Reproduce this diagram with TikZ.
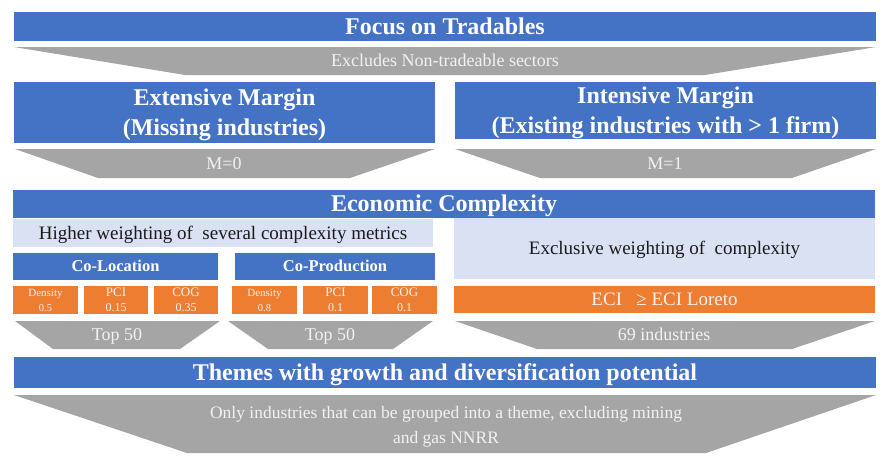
\documentclass[tikz,border=0pt]{standalone}
\usepackage{fontspec}
\setmainfont{Liberation Serif}
\definecolor{oblue}{HTML}{4472C4}
\definecolor{ogray}{HTML}{A5A5A5}
\definecolor{oorange}{HTML}{ED7D31}
\definecolor{olight}{HTML}{DAE1F3}
\definecolor{ltext}{HTML}{F2F2F2}
\definecolor{dtext}{HTML}{1A1A1A}
\begin{document}
\begin{tikzpicture}[x=1pt,y=-1pt,
  box/.style={rectangle, inner sep=0pt, outer sep=0pt, align=center},
  bluebox/.style={box, fill=oblue, text=white, font=\bfseries\fontsize{24}{30}\selectfont, text height=19pt, text depth=3.2pt},
  twoline/.style={text height=49pt, text depth=3.2pt},
  subblue/.style={box, fill=oblue, text=white, font=\bfseries\fontsize{16.5}{20}\selectfont, text height=13pt, text depth=2.1pt},
  lightbox/.style={box, fill=olight, text=dtext, font=\fontsize{19}{23}\selectfont, text height=15.5pt, text depth=3pt},
  orangebox/.style={box, fill=oorange, text=ltext, font=\fontsize{19}{23}\selectfont, text height=15.5pt, text depth=3pt},
  smallorange/.style={box, fill=oorange, text=ltext, minimum height=28pt, font=\fontsize{12}{15.5}\selectfont, text height=25.5pt, text depth=1.7pt},
  graytext/.style={box, text=ltext, font=\fontsize{18}{25}\selectfont, text height=14.5pt, text depth=2.6pt},
  funnel/.style={fill=ogray}
]
\useasboundingbox (0,0) rectangle (890,475);

% Focus on Tradables
\node[bluebox, minimum width=862pt, minimum height=29pt] (focus) at (445,26.5) {Focus on Tradables};
\fill[funnel] (14,47) -- (876,47) -- (705,75) -- (185,75) -- cycle;
\node[graytext] (excl) at (445,61) {Excludes Non-tradeable sectors};

% Margins
\node[bluebox, twoline, minimum width=421pt, minimum height=61pt] (ext) at (224.5,112.5) {Extensive Margin\\(Missing industries)};
\node[bluebox, twoline, minimum width=421pt, minimum height=57pt] (int) at (665.5,110.5) {Intensive Margin\\(Existing industries with > 1 firm)};
\fill[funnel] (15,149) -- (435,149) -- (350,178) -- (98,178) -- cycle;
\node[graytext] (m0) at (224,163.5) {M=0};
\fill[funnel] (455,149) -- (876,149) -- (792,178) -- (540,178) -- cycle;
\node[graytext] (m1) at (665,163.5) {M=1};

% Economic complexity
\node[bluebox, minimum width=862pt, minimum height=28pt] (eco) at (444,204) {Economic Complexity};
\node[lightbox, minimum width=420pt, minimum height=28pt] (higher) at (223,233) {Higher weighting of\ \ several complexity metrics};
\node[lightbox, minimum width=421pt, minimum height=61pt] (exclusive) at (664.5,248.5) {Exclusive weighting of\ \ complexity};

\node[subblue, minimum width=205pt, minimum height=27pt] (coloc) at (115.5,266.5) {Co-Location};
\node[subblue, minimum width=200pt, minimum height=27pt] (coprod) at (335,266.5) {Co-Production};

\node[smallorange, minimum width=65pt] (d1) at (45.5,300) {\fontsize{11}{15.5}\selectfont Density\\\fontsize{10.5}{15.5}\selectfont 0.5};
\node[smallorange, minimum width=64pt] (p1) at (116,300) {\fontsize{13}{15.5}\selectfont PCI\\\fontsize{12}{15.5}\selectfont 0.15};
\node[smallorange, minimum width=64pt] (c1) at (186,300) {\fontsize{13}{15.5}\selectfont COG\\\fontsize{12}{15.5}\selectfont 0.35};
\node[smallorange, minimum width=65pt] (d2) at (264.5,300) {\fontsize{11}{15.5}\selectfont Density\\\fontsize{10.5}{15.5}\selectfont 0.8};
\node[smallorange, minimum width=65pt] (p2) at (335.5,300) {\fontsize{13}{15.5}\selectfont PCI\\\fontsize{12}{15.5}\selectfont 0.1};
\node[smallorange, minimum width=65pt] (c2) at (404.5,300) {\fontsize{13}{15.5}\selectfont COG\\\fontsize{12}{15.5}\selectfont 0.1};

\node[orangebox, minimum width=421pt, minimum height=27pt] (eci) at (664.5,299.5) {ECI\ \ \ ≥ ECI Loreto};

\fill[funnel] (15,321) -- (220,321) -- (180,349) -- (53,349) -- cycle;
\node[graytext] (top1) at (117,335) {Top 50};
\fill[funnel] (228,321) -- (433,321) -- (393,349) -- (268,349) -- cycle;
\node[graytext] (top2) at (330,335) {Top 50};
\fill[funnel] (455,321) -- (875,321) -- (792,349) -- (537,349) -- cycle;
\node[graytext] (n69) at (664,335) {69 industries};

% Themes
\node[bluebox, minimum width=862pt, minimum height=31pt] (themes) at (445,372.5) {Themes with growth and diversification potential};
\fill[funnel] (14,395) -- (876,395) -- (706,453) -- (187,453) -- cycle;
\node[graytext, font=\fontsize{17.5}{25}\selectfont, text height=39pt, text depth=2.6pt] (only) at (446,425) {Only industries that can be grouped into a theme, excluding mining\\and gas NNRR};
\end{tikzpicture}
\end{document}
